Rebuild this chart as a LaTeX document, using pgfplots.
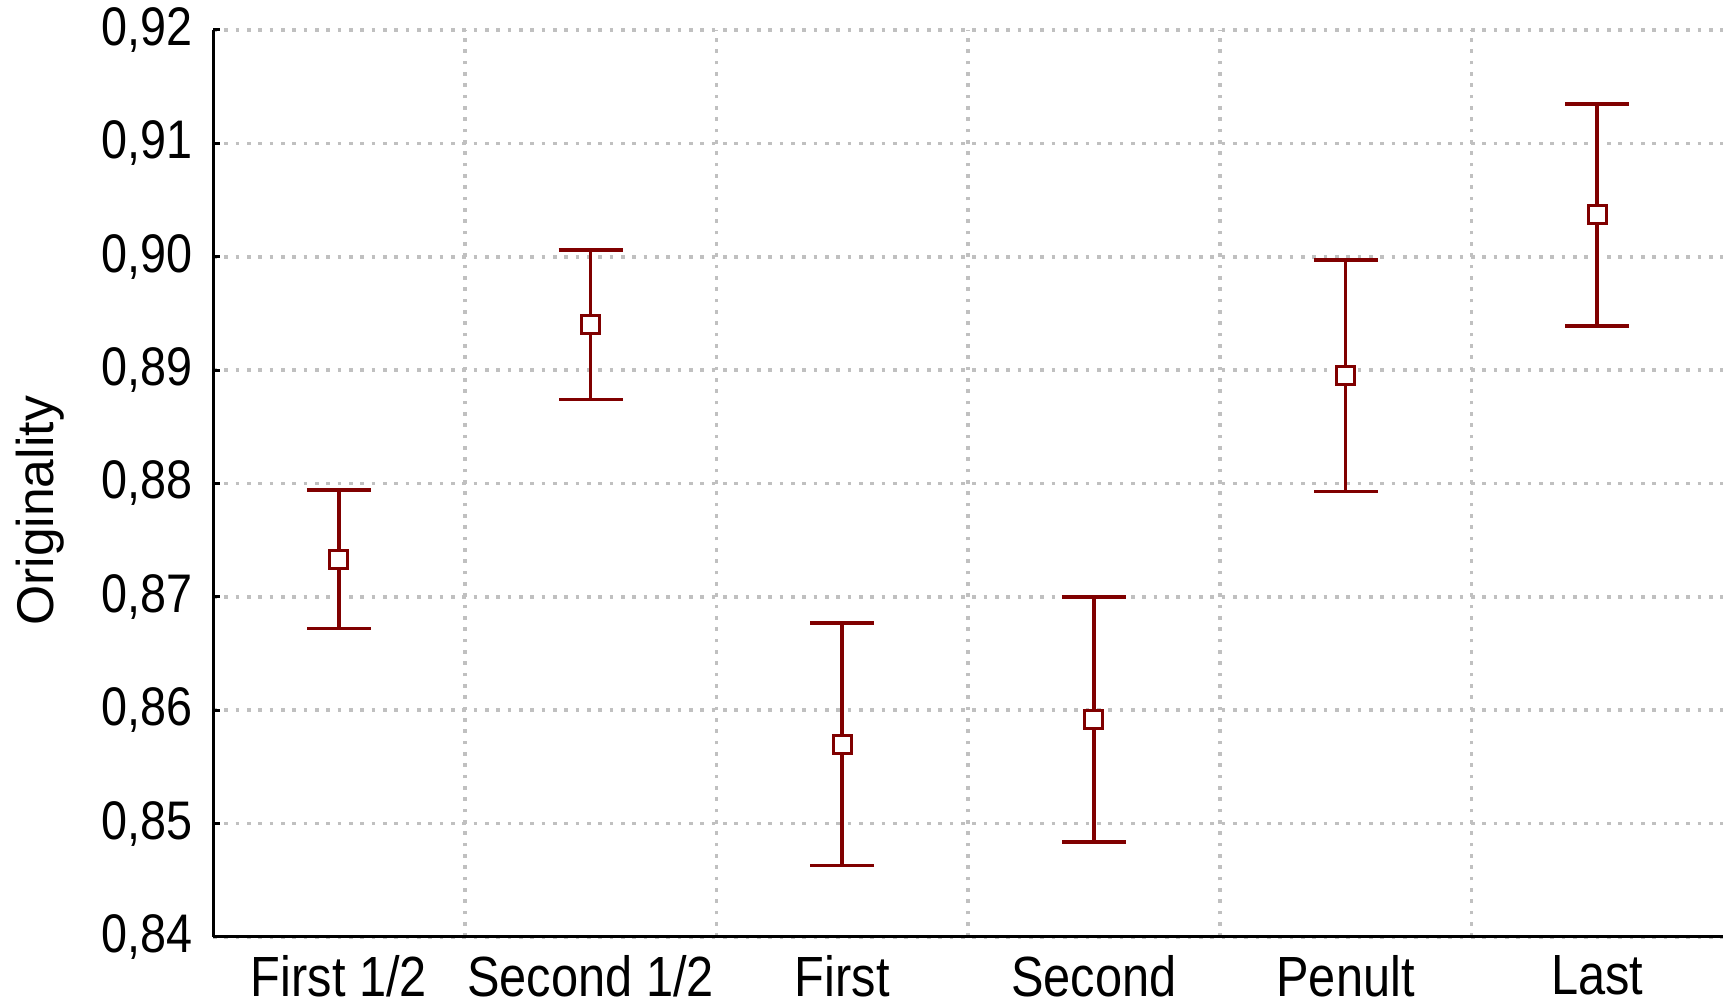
\documentclass[border=0pt]{standalone}
\usepackage{fontspec}
\setmainfont{Liberation Sans}[FakeStretch=0.86]
\newfontfamily\labelfont{Liberation Sans}
\usepackage{pgfplots}
\usepackage{pgfplotstable}
\pgfplotsset{compat=1.18}
\definecolor{barred}{HTML}{800000}
\definecolor{gridgray}{HTML}{C0C0C0}
\pgfplotstableread{
x y e
0 0.8733 0.0061
1 0.8940 0.0066
2 0.8570 0.0107
3 0.8592 0.0108
4 0.8895 0.0102
5 0.9037 0.0098
}\datatab
\begin{document}
\begin{tikzpicture}
\begin{axis}[
  scale only axis, width=453pt, height=272.1pt,
  xmin=-0.5, xmax=5.5, ymin=0.84, ymax=0.92,
  axis x line*=bottom, axis y line*=left,
  axis line style={line width=0.9pt, black},
  xtick={0,1,2,3,4,5},
  xticklabels={First 1/2, Second 1/2, First, Second, Penult, Last},
  minor xtick={0.5,1.5,2.5,3.5,4.5},
  xminorgrids=true, xmajorgrids=false, ymajorgrids=true,
  ytick={0.84,0.85,0.86,0.87,0.88,0.89,0.90,0.91,0.92},
  grid style={gridgray, line width=1.1pt, dash pattern=on 1.1pt off 2.3pt},
  minor grid style={gridgray, line width=1.1pt, dash pattern=on 1.1pt off 2.3pt},
  x tick style={draw=none},
  minor x tick style={draw=none},
  y tick style={black, line width=0.9pt},
  major tick length=2.2pt, tick align=inside,
  yticklabel style={font=\fontsize{16.3}{19}\selectfont, xshift=-2.5pt},
  xticklabel style={font=\fontsize{17}{20}\selectfont, yshift=-2pt},
  /pgf/number format/.cd, use comma, fixed, fixed zerofill, precision=2, assume math mode=true,
  /pgfplots/.cd,
  ylabel={Originality},
  ylabel style={font=\labelfont\fontsize{15.5}{18}\selectfont, at={(axis description cs:-0.1145,0.4697)}, anchor=center},
  clip=false,
]
\addplot[barred, only marks, mark=none,
  error bars/.cd, y dir=both, y explicit,
  error bar style={draw=barred, solid, line width=1.1pt},
  error mark options={draw=barred, solid, line width=1.1pt, mark size=9.6pt, rotate=90}]
  table[x=x, y=y, y error=e] {\datatab};
\addplot[barred, only marks, mark=square*, mark size=2.7pt,
  mark options={fill=white, draw=barred, line width=0.85pt, solid}]
  table[x=x, y=y] {\datatab};
\coordinate (bl) at (rel axis cs:-0.1411,-0.0783);
\coordinate (tr) at (rel axis cs:1.00464,1.0331);
\end{axis}
\pgfresetboundingbox
\path[use as bounding box] (bl) rectangle (tr);
\end{tikzpicture}
\end{document}
